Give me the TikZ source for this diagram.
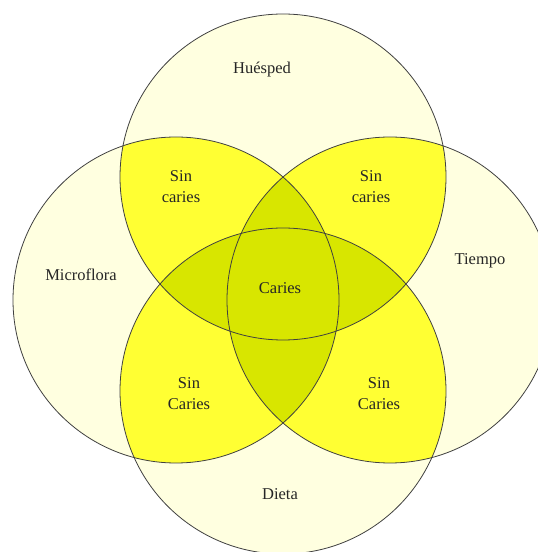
\documentclass[tikz,border=0pt]{standalone}
\usepackage{fontspec}
\setmainfont{Liberation Serif}
\usetikzlibrary{positioning}

\definecolor{pale}{RGB}{255,255,224}
\definecolor{brite}{RGB}{255,255,51}
\definecolor{olive}{RGB}{216,230,0}
\def\rad{163pt}

\tikzset{
  lbl/.style={font=\fontsize{16.5}{21}\selectfont, align=center, text=black!85, inner sep=0pt},
  ring/.style={draw=black!75, line width=0.8pt}
}

\begin{document}
\begin{tikzpicture}[x=1pt, y=1pt]
  \useasboundingbox (0,0) rectangle (538,552);
  \fill [white] (0,0) rectangle (538,552);
  \clip (0,0) rectangle (538,552);
  \coordinate (T) at (283,375);
  \coordinate (L) at (176,252);
  \coordinate (R) at (390,252);
  \coordinate (B) at (283,161);
  % one circle
  \foreach \c in {T,L,R,B}
    \fill [pale] (\c) circle [radius=\rad];
  % two circles
  \foreach \a/\b in {T/L,T/R,B/L,B/R,L/R,T/B} {
    \begin{scope}
      \clip (\a) circle [radius=\rad];
      \fill [brite] (\b) circle [radius=\rad];
    \end{scope}
  }
  % three circles or more
  \foreach \a/\b/\c in {T/L/R,T/L/B,T/R/B,L/R/B} {
    \begin{scope}
      \clip (\a) circle [radius=\rad];
      \clip (\b) circle [radius=\rad];
      \fill [olive] (\c) circle [radius=\rad];
    \end{scope}
  }
  \foreach \c in {T,L,R,B}
    \draw [ring] (\c) circle [radius=\rad];
  \node [lbl] (huesped) at (262,482) {Huésped};
  \node [lbl] (micro) at (81,277) {Microflora};
  \node [lbl] (tiempo) at (480,291) {Tiempo};
  \node [lbl] (dieta) at (280,58) {Dieta};
  \node [lbl] (caries) at (280,264) {Caries};
  \node [lbl] (sinTL) at (181,365) {Sin\\caries};
  \node [lbl] (sinTR) at (371,365) {Sin\\caries};
  \node [lbl] (sinBL) at (189,158) {Sin\\Caries};
  \node [lbl] (sinBR) at (379,158) {Sin\\Caries};
\end{tikzpicture}
\end{document}
